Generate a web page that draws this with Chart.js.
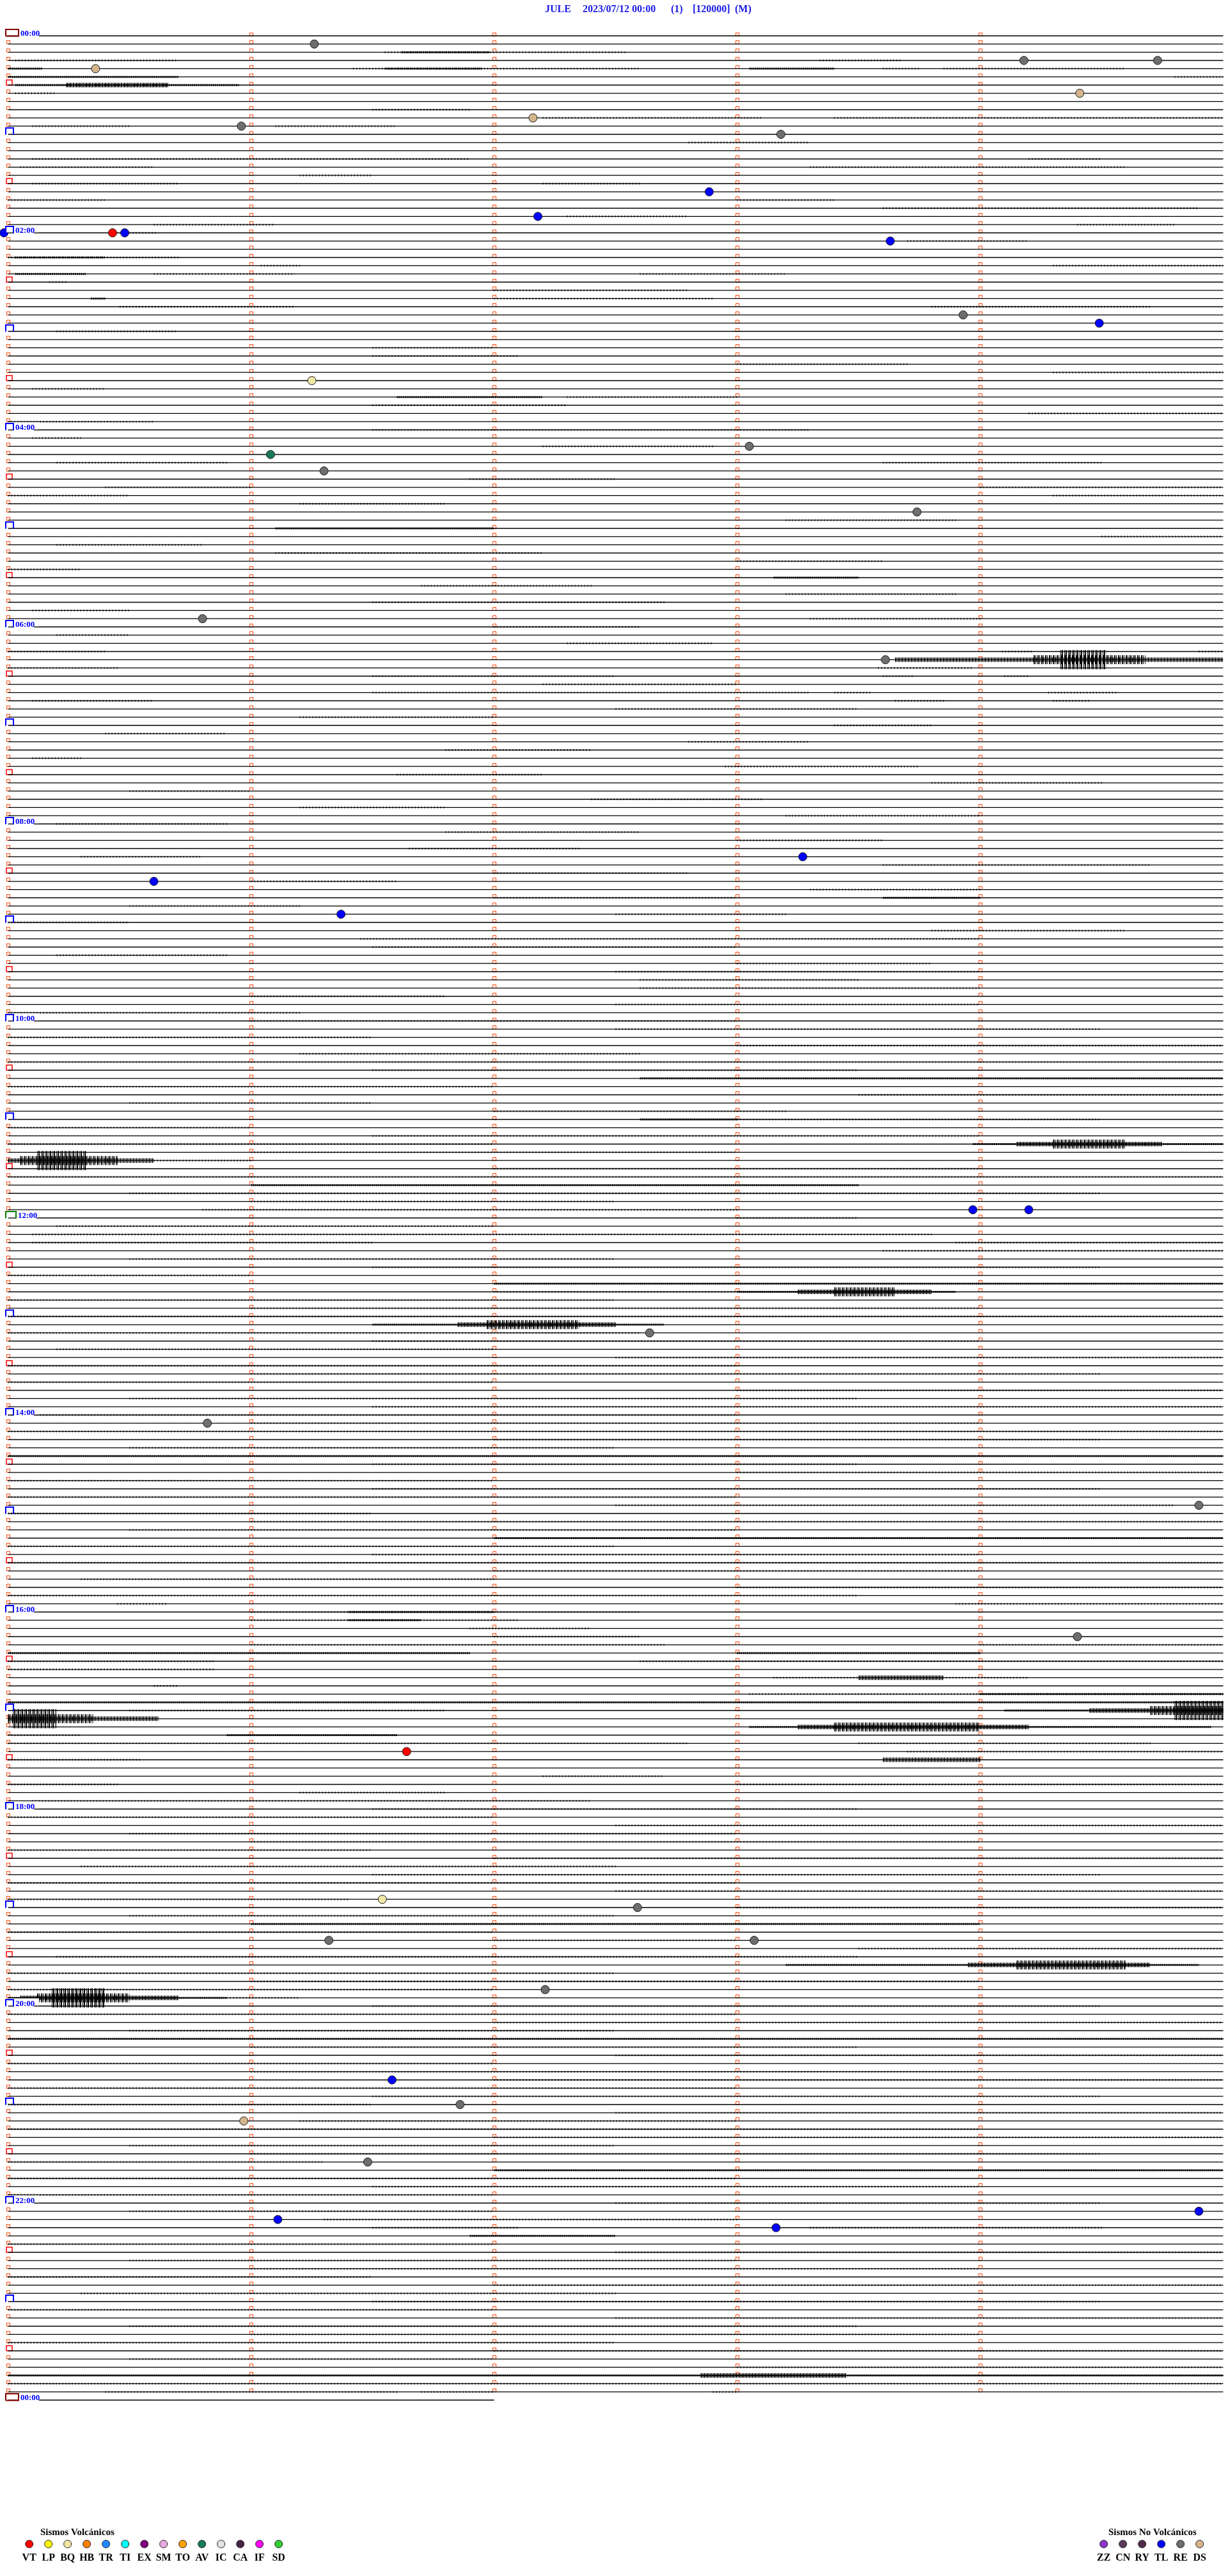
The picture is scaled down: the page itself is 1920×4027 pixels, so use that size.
<!DOCTYPE html>
<html>
<head>
<meta charset="utf-8">
<title>JULE helicorder</title>
<script src="https://cdn.jsdelivr.net/npm/chart.js@4.4.0/dist/chart.umd.min.js"></script>
<style>
  html, body { margin: 0; padding: 0; background: #fff; }
  canvas { display: block; }
</style>
</head>
<body>
<canvas id="heli" width="1920" height="4027"></canvas>
<script>
// one trace row = 5 minutes, 288 rows per day
const rowCount = 288;
const minutesPerRow = 5;
const lastRowEnd = 2.0; // final 00:00 row is only drawn up to minute 2

const titleParts = ['JULE', '2023/07/12 00:00', '(1)', '[120000]', '(M)'];
const hourLabels = ['00:00', '02:00', '04:00', '06:00', '08:00', '10:00', '12:00',
  '14:00', '16:00', '18:00', '20:00', '22:00', '00:00'];

const volcTypes = ['VT', 'LP', 'BQ', 'HB', 'TR', 'TI', 'EX', 'SM', 'TO', 'AV', 'IC', 'CA', 'IF', 'SD'];
const volcColors = ['#ff0000', '#ffff00', '#f2e6a6', '#ff8000', '#1e88ff', '#00ffff', '#800080',
  '#e8a8e0', '#ffa000', '#187a5c', '#e2e2e2', '#4a2442', '#ff00ff', '#33cc33'];
const noVolcTypes = ['ZZ', 'CN', 'RY', 'TL', 'RE', 'DS'];
const noVolcColors = ['#8a34c8', '#5a3c5a', '#522a4c', '#0000ff', '#6e6e6e', '#d4b48c'];

// detected events: row index, minute inside the row, type
const eventRows = [1, 4, 3, 3, 7, 11, 10, 12, 19, 22, 24, 24, 24, 25, 34, 35, 42, 50, 51, 53,
  58, 71, 76, 100, 103, 107, 143, 143, 158, 169, 179, 195, 209, 227, 228, 232, 232, 238, 249,
  252, 254, 259, 266, 267, 265];
const eventMins = [1.26, 0.36, 4.18, 4.73, 4.41, 0.96, 2.16, 3.18, 2.885, 2.18, -0.017, 0.43, 0.48,
  3.63, 3.93, 4.49, 1.25, 3.05, 1.08, 1.30, 3.74, 0.80, 3.61, 3.27, 0.60, 1.37, 3.97, 4.20, 2.64,
  0.82, 4.90, 4.40, 1.64, 1.54, 2.59, 1.32, 3.07, 2.21, 1.58, 1.86, 0.97, 1.48, 1.11, 3.16, 4.90];
const eventTypes = ['RE', 'DS', 'RE', 'RE', 'DS', 'RE', 'DS', 'RE', 'TL', 'TL', 'TL', 'VT', 'TL',
  'TL', 'RE', 'TL', 'BQ', 'RE', 'AV', 'RE', 'RE', 'RE', 'RE', 'TL', 'TL', 'TL', 'TL', 'TL', 'RE',
  'RE', 'RE', 'RE', 'VT', 'BQ', 'RE', 'RE', 'RE', 'RE', 'TL', 'RE', 'DS', 'RE', 'TL', 'TL', 'TL'];

// trace activity: [row, from minute, to minute, level 1..5]
const bursts = [
  [2, 1.55, 2.55, 1], [2, 1.62, 1.98, 2],
  [3, 0.03, 0.7, 1], [3, 3.34, 3.68, 1],
  [4, 0.0, 0.14, 2], [4, 1.42, 2.6, 1], [4, 1.55, 1.95, 2], [4, 3.05, 3.4, 2], [4, 3.6, 3.75, 1], [4, 3.85, 4.6, 1],
  [5, 0.0, 0.7, 2], [5, 4.8, 5, 1],
  [6, 0.03, 0.95, 2], [6, 0.24, 0.66, 3],
  [7, 0.03, 0.19, 1], [9, 1.5, 1.9, 1], [10, 2.2, 3.1, 1], [10, 3.4, 5, 1],
  [11, 0.1, 0.5, 1], [11, 1.1, 1.6, 1], [13, 2.8, 3.3, 1], [15, 0.1, 1.9, 1], [15, 4.2, 4.5, 1],
  [16, 0.05, 0.6, 1], [16, 3.3, 4.6, 1], [17, 1.2, 1.5, 1], [18, 0.1, 0.7, 1], [18, 2.2, 2.6, 1],
  [20, 0.0, 0.4, 1], [20, 3.0, 3.4, 1], [21, 3.6, 4.9, 1], [22, 2.3, 2.8, 1], [23, 0.6, 1.1, 1], [23, 4.4, 4.8, 1],
  [24, 0.5, 0.61, 1], [25, 3.7, 4.2, 1], [27, 0.0, 0.71, 1], [27, 0.03, 0.4, 2], [28, 1.04, 1.2, 1], [28, 4.3, 5, 1],
  [29, 0.03, 0.32, 2], [29, 0.6, 1.18, 1], [29, 2.6, 3.2, 1], [30, 0.17, 0.24, 1], [31, 2.0, 2.8, 1],
  [32, 0.34, 0.4, 2], [32, 2.0, 2.9, 1], [33, 0.46, 1.18, 1], [33, 3.8, 4.7, 1], [36, 0.2, 0.7, 1],
  [38, 1.5, 2.0, 1], [39, 1.5, 2.1, 1], [40, 3.0, 3.7, 1], [41, 4.3, 5, 1], [43, 0.1, 0.4, 1],
  [44, 1.6, 2.2, 2], [44, 2.3, 3.0, 1], [45, 1.5, 2.3, 1], [46, 4.2, 5, 1], [47, 0.0, 0.6, 1],
  [48, 1.5, 3.3, 1], [49, 0.1, 0.3, 1], [50, 2.2, 2.9, 1], [52, 0.2, 0.9, 1], [52, 3.6, 4.5, 1],
  [54, 1.9, 2.5, 1], [55, 0.4, 1.0, 1], [55, 4.0, 5, 1], [56, 0.0, 0.5, 1], [56, 4.3, 5, 1],
  [57, 1.2, 1.8, 1], [59, 3.2, 3.9, 1], [60, 1.1, 2.0, 2], [61, 4.5, 5, 1], [62, 0.2, 0.8, 1],
  [63, 1.1, 2.2, 1], [64, 3.0, 3.6, 1], [65, 0.0, 0.3, 1], [66, 3.15, 3.5, 2], [67, 1.7, 2.4, 1],
  [68, 3.2, 3.9, 1], [69, 1.5, 2.7, 1], [70, 0.1, 0.5, 1], [71, 3.3, 4.0, 1],
  [72, 2.0, 2.6, 1], [73, 0.2, 0.5, 1], [74, 2.3, 2.9, 1], [75, 0.0, 0.4, 1], [75, 4.09, 4.22, 1], [75, 4.9, 5, 1],
  [76, 3.65, 5, 3], [76, 4.22, 4.68, 4], [76, 4.33, 4.52, 5],
  [77, 0.0, 0.45, 1], [77, 3.58, 3.97, 1], [78, 1.5, 2.5, 1], [78, 3.6, 3.73, 1], [78, 4.1, 4.2, 1],
  [79, 2.2, 3.0, 1], [80, 1.5, 3.3, 1], [80, 3.4, 3.55, 1], [80, 4.28, 4.57, 1], [81, 0.1, 0.6, 1],
  [81, 3.65, 3.86, 1], [81, 4.3, 4.45, 1], [82, 2.5, 3.5, 1], [83, 1.2, 2.0, 1], [84, 3.4, 3.8, 1],
  [85, 0.4, 0.9, 1], [86, 2.8, 3.3, 1], [87, 1.8, 2.4, 1], [88, 0.1, 0.3, 1], [89, 2.95, 3.75, 1],
  [90, 1.6, 2.2, 1], [91, 3.8, 4.5, 1], [92, 0.5, 1.0, 1], [93, 2.4, 3.1, 1], [94, 1.2, 1.8, 1], [95, 3.2, 4.0, 1],
  [96, 0.2, 0.9, 1], [97, 1.8, 2.6, 1], [98, 3.0, 3.6, 1], [99, 1.65, 2.35, 1], [100, 0.3, 0.8, 1],
  [101, 3.6, 4.7, 1], [102, 2.0, 2.8, 1], [103, 1.0, 1.6, 1], [104, 3.3, 4.0, 1], [105, 2.0, 3.0, 1],
  [105, 3.6, 4.0, 2], [106, 0.5, 1.2, 1], [107, 2.5, 3.2, 1], [108, 0.0, 0.5, 1], [109, 3.8, 4.6, 1],
  [110, 1.45, 4.0, 1], [111, 1.5, 3.0, 1], [112, 0.2, 0.9, 1], [113, 3.0, 3.8, 1], [114, 2.5, 4.0, 1],
  [115, 2.6, 3.5, 1], [116, 2.6, 4.0, 1], [117, 1.0, 1.8, 1], [118, 2.5, 4.0, 1], [119, 0.0, 1.2, 1],
  [120, 1.0, 3.0, 1], [121, 2.5, 4.5, 1], [122, 0.0, 1.5, 1], [123, 3.0, 5, 1], [124, 1.2, 2.6, 1],
  [125, 0.0, 5, 1], [126, 1.5, 3.5, 1], [127, 2.6, 5, 2], [128, 0.0, 2.0, 1], [129, 3.5, 5, 1],
  [130, 0.5, 1.5, 1], [131, 2.0, 3.2, 1], [132, 2.6, 3.0, 2], [132, 3.0, 4.5, 1], [133, 0.0, 1.0, 1],
  [134, 1.5, 4.0, 1], [135, 0.0, 2.0, 1], [135, 3.97, 5, 2], [135, 4.15, 4.75, 3], [135, 4.3, 4.6, 4],
  [136, 1.0, 3.0, 1], [137, 0.0, 0.6, 3], [137, 0.05, 0.45, 4], [137, 0.12, 0.32, 5], [137, 0.6, 1.0, 1],
  [138, 2.0, 4.0, 1], [139, 0.0, 5, 1], [140, 1.0, 3.5, 2], [141, 0.5, 4.5, 1], [142, 1.0, 2.5, 1], [143, 0.8, 3.0, 1],
  [144, 3.0, 3.5, 1], [145, 0.2, 2.0, 1], [146, 0.1, 3.8, 1], [147, 0.1, 1.5, 1], [147, 3.9, 5, 1],
  [148, 3.6, 5, 1], [149, 0.5, 2.5, 1], [150, 1.5, 4.5, 1], [151, 0.0, 1.0, 1], [152, 2.0, 5, 2],
  [153, 2.0, 3.0, 1], [153, 3.0, 3.9, 2], [153, 3.25, 3.8, 3], [153, 3.4, 3.65, 4], [154, 0.0, 2.5, 1],
  [155, 1.0, 4.0, 1], [156, 0.0, 5, 1], [157, 1.5, 2.7, 2], [157, 1.85, 2.5, 3], [157, 1.97, 2.35, 4],
  [158, 0.0, 2.6, 1], [159, 1.5, 4.0, 1], [160, 0.2, 2.0, 1], [161, 2.5, 5, 1], [162, 0.0, 3.0, 1],
  [163, 1.0, 4.5, 1], [164, 0.0, 2.0, 1], [165, 3.0, 5, 1], [166, 0.5, 3.5, 1], [167, 1.5, 5, 1],
  [168, 0.0, 3.0, 1], [169, 1.0, 4.0, 1], [170, 0.0, 5, 1], [171, 2.0, 4.5, 1], [172, 0.5, 2.5, 1],
  [173, 0.0, 5, 2], [174, 1.5, 3.5, 1], [175, 3.0, 5, 1], [176, 0.0, 2.0, 1], [177, 1.5, 4.5, 1],
  [178, 0.0, 3.0, 1], [179, 2.5, 4.8, 1], [180, 0.0, 1.5, 1], [181, 1.0, 5, 1], [182, 0.5, 3.0, 1],
  [183, 2.0, 5, 2], [184, 0.0, 2.5, 1], [185, 1.5, 4.0, 1], [186, 0.0, 5, 1], [187, 2.0, 4.0, 1],
  [188, 0.3, 2.0, 1], [189, 3.0, 5, 1], [190, 0.0, 3.5, 1], [191, 0.45, 0.65, 1], [191, 3.9, 5, 1],
  [192, 1.0, 2.6, 1], [192, 1.4, 2.0, 2], [193, 1.0, 2.1, 1], [193, 1.4, 1.7, 2], [194, 1.9, 2.4, 1],
  [195, 2.0, 2.6, 1], [196, 1.0, 2.7, 1], [196, 4.0, 5, 1], [197, 0.0, 1.9, 2], [197, 3.0, 4.0, 2],
  [198, 0.0, 0.85, 1], [198, 2.6, 5, 1], [199, 0.0, 0.85, 1], [200, 3.15, 4.2, 1], [200, 3.5, 3.85, 3],
  [201, 0.6, 0.7, 1], [202, 3.05, 5, 1], [202, 4.0, 5, 2], [203, 0.0, 5, 2], [204, 0.5, 1.8, 1],
  [204, 4.1, 5, 2], [204, 4.45, 5, 3], [204, 4.7, 5, 4], [204, 4.8, 5, 5],
  [205, 0.0, 0.62, 3], [205, 0.0, 0.35, 4], [205, 0.02, 0.2, 5],
  [206, 3.05, 4.95, 2], [206, 3.25, 4.2, 3], [206, 3.4, 4.0, 4], [207, 0.0, 0.3, 1], [207, 0.9, 1.6, 2],
  [208, 0.0, 2.8, 1], [208, 3.5, 4.7, 1], [209, 3.7, 5, 1], [210, 0.0, 0.55, 1], [210, 3.6, 4.0, 3],
  [212, 2.2, 2.7, 1], [213, 0.0, 0.45, 1], [213, 3.0, 5, 1], [214, 1.2, 1.8, 1], [215, 0.1, 2.4, 1],
  [216, 1.5, 3.5, 1], [217, 0.0, 2.0, 1], [218, 2.5, 5, 1], [219, 0.5, 3.0, 1], [220, 1.0, 4.0, 1],
  [221, 0.0, 1.5, 1], [222, 2.0, 5, 1], [223, 0.3, 2.5, 1], [224, 1.5, 4.5, 1], [225, 0.0, 3.0, 1],
  [226, 2.5, 5, 1], [227, 0.0, 1.4, 1], [228, 3.0, 5, 1], [229, 0.5, 2.5, 1], [230, 1.0, 4.0, 2],
  [231, 0.0, 2.0, 1], [232, 2.0, 3.0, 1], [233, 3.5, 5, 1], [234, 0.2, 3.5, 1], [235, 3.2, 4.9, 2],
  [235, 3.95, 4.7, 3], [235, 4.15, 4.6, 4], [236, 0.0, 2.5, 1], [237, 1.0, 4.0, 1], [238, 0.0, 2.0, 1],
  [239, 0.0, 0.9, 2], [239, 0.05, 0.7, 3], [239, 0.12, 0.5, 4], [239, 0.18, 0.4, 5], [239, 0.9, 1.2, 1],
  [240, 1.5, 4.5, 1], [241, 0.0, 3.0, 1], [242, 2.0, 5, 1], [243, 0.5, 2.5, 1], [244, 0.0, 5, 2],
  [245, 1.0, 3.5, 1], [246, 2.5, 5, 1], [247, 0.0, 2.0, 1], [248, 1.0, 4.0, 1], [249, 2.0, 5, 1],
  [250, 0.0, 3.0, 1], [251, 1.5, 4.5, 1], [252, 0.0, 1.5, 1], [253, 2.5, 5, 1], [254, 1.2, 3.0, 1],
  [255, 0.0, 4.0, 1], [256, 2.0, 5, 1], [257, 0.5, 2.5, 1], [258, 1.0, 4.5, 1], [259, 0.0, 1.3, 1],
  [260, 2.0, 5, 2], [261, 0.0, 3.0, 1], [262, 1.5, 4.0, 1], [263, 0.0, 2.0, 1],
  [264, 2.5, 4.5, 1], [265, 0.5, 2.0, 1], [266, 1.3, 3.0, 1], [267, 1.5, 2.1, 1], [267, 3.3, 4.5, 1],
  [268, 1.9, 2.5, 2], [269, 0.0, 2.0, 1], [270, 2.5, 5, 1], [271, 0.5, 3.0, 1], [272, 1.0, 4.0, 1],
  [273, 0.0, 1.5, 1], [274, 2.0, 5, 1], [275, 0.3, 2.5, 1], [276, 1.5, 4.5, 1], [277, 0.0, 2.0, 1],
  [278, 2.5, 5, 1], [279, 0.5, 3.5, 1], [280, 1.0, 4.0, 1], [281, 0.0, 2.5, 1], [282, 2.0, 5, 1],
  [283, 0.5, 2.0, 1], [284, 3.0, 5, 1], [285, 0.0, 5, 2], [285, 2.85, 3.45, 3], [286, 0.0, 5, 1],
  [287, 0.4, 1.6, 1], [287, 1.7, 2.0, 1], [287, 2.9, 3.0, 1]
];

// look and feel of each activity level
const levelStyle = {
  1: { width: 3, dash: [1, 4] },
  2: { width: 3, dash: [2, 1] },
  3: { width: 7, dash: [2, 1, 1, 1] },
  4: { width: 14, dash: [2, 1, 1, 2] },
  5: { width: 30, dash: [1, 1, 2, 2] }
};

const typeColor = {};
volcTypes.forEach((t, i) => { typeColor[t] = volcColors[i]; });
noVolcTypes.forEach((t, i) => { typeColor[t] = noVolcColors[i]; });

// baselines, broken between rows with null points
const baseline = [];
for (let r = 0; r <= rowCount; r++) {
  const end = r === rowCount ? lastRowEnd : minutesPerRow;
  baseline.push({ x: 0, y: r }, { x: end, y: r }, { x: end, y: null });
}

const levelData = { 1: [], 2: [], 3: [], 4: [], 5: [] };
bursts.forEach(([row, from, to, lvl]) => {
  levelData[lvl].push({ x: from, y: row }, { x: to, y: row }, { x: to, y: null });
});

const burstSets = Object.keys(levelData).map(lvl => ({
  data: levelData[lvl],
  showLine: true,
  pointRadius: 0,
  borderColor: '#000',
  borderWidth: levelStyle[lvl].width,
  borderDash: levelStyle[lvl].dash,
  borderCapStyle: 'butt',
  spanGaps: false,
  clip: false,
  order: 1
}));

const eventSet = {
  data: eventRows.map((r, i) => ({ x: eventMins[i], y: r })),
  pointRadius: 6.5,
  pointBorderWidth: 1,
  pointBorderColor: '#1a1a1a',
  pointBackgroundColor: eventTypes.map(t => typeColor[t]),
  clip: false,
  order: 0
};

const baselineSet = {
  data: baseline,
  showLine: true,
  pointRadius: 0,
  borderColor: '#000',
  borderWidth: 1.3,
  spanGaps: false,
  clip: false,
  order: 2
};

// minute ticks, hour marks, labels, title and legend
const decorations = {
  id: 'decorations',
  beforeDatasetsDraw(chart) {
    const { ctx, scales: { x, y } } = chart;
    ctx.save();
    ctx.lineWidth = 1;
    for (let r = 0; r < rowCount; r++) {
      const py = y.getPixelForValue(r);
      for (let m = 0; m < minutesPerRow; m++) {
        if (m === 0 && r % 6 === 0) continue;
        const px = x.getPixelForValue(m);
        ctx.strokeStyle = '#ff4a10';
        ctx.strokeRect(Math.round(px - 2.5) + 0.5, Math.round(py - 5.5) + 0.5, 5, 5);
      }
      if (r % 12 === 6) {
        const px = x.getPixelForValue(0);
        ctx.strokeStyle = '#ff0000';
        ctx.lineWidth = 1.5;
        ctx.strokeRect(Math.round(px - 2.5), Math.round(py - 8.5), 9, 8);
        ctx.lineWidth = 1;
      }
    }
    ctx.restore();
  },
  afterDatasetsDraw(chart) {
    const { ctx, scales: { x, y } } = chart;
    const x0 = x.getPixelForValue(0);
    ctx.save();

    // hour marks
    for (let r = 0; r <= rowCount; r += 12) {
      const py = y.getPixelForValue(r);
      const hour = r / 12;
      let color = '#0000ff', w = 12;
      if (hour % 24 === 0) { color = '#800000'; w = 20; }
      else if (hour === 12) { color = '#008000'; w = 16; }
      const left = Math.round(x0 - 3.5);
      if (hour % 2 === 0) {
        ctx.fillStyle = '#fff';
        ctx.fillRect(left, py - 12, 52, 11.2);
        ctx.fillRect(left + w + 1, py - 1, 31, 3);
      }
      ctx.strokeStyle = color;
      ctx.lineWidth = 2;
      ctx.beginPath();
      ctx.moveTo(left, py + 0.5);
      ctx.lineTo(left, py - 10);
      ctx.lineTo(left + w, py - 10);
      ctx.lineTo(left + w, py + 0.5);
      if (hour % 24 === 0) ctx.lineTo(left, py + 0.5);
      ctx.stroke();
      if (hour % 2 === 0) {
        ctx.fillStyle = '#0000ff';
        ctx.font = 'bold 13px "Liberation Serif"';
        ctx.textBaseline = 'alphabetic';
        ctx.textAlign = 'left';
        ctx.fillText(hourLabels[hour / 2], left + w + 3, py);
      }
    }

    // title
    ctx.fillStyle = '#1a1ae6';
    ctx.font = 'bold 16px "Liberation Serif"';
    ctx.textAlign = 'left';
    ctx.textBaseline = 'alphabetic';
    const titleX = [852, 911, 1049, 1083, 1149];
    titleParts.forEach((t, i) => ctx.fillText(t, titleX[i], 19));

    // legends
    const drawLegend = (title, titleLeft, types, colors, firstX) => {
      ctx.fillStyle = '#000';
      ctx.font = 'bold 15px "Liberation Serif"';
      ctx.textAlign = 'left';
      ctx.fillText(title, titleLeft, 3963);
      types.forEach((t, i) => {
        const cx = firstX + i * 30;
        ctx.beginPath();
        ctx.arc(cx, 3977, 6, 0, Math.PI * 2);
        ctx.fillStyle = colors[i];
        ctx.fill();
        ctx.strokeStyle = '#222';
        ctx.lineWidth = 1;
        ctx.stroke();
        ctx.fillStyle = '#000';
        ctx.font = 'bold 16px "Liberation Serif"';
        ctx.textAlign = 'center';
        ctx.fillText(t, cx, 4003);
      });
      ctx.textAlign = 'left';
    };
    drawLegend('Sismos Volcánicos', 63, volcTypes, volcColors, 45.7);
    drawLegend('Sismos No Volcánicos', 1733, noVolcTypes, noVolcColors, 1725.7);

    ctx.restore();
  }
};

const ctx = document.getElementById('heli').getContext('2d');
new Chart(ctx, {
  type: 'scatter',
  data: { datasets: [eventSet, ...burstSets, baselineSet] },
  options: {
    responsive: false,
    animation: false,
    devicePixelRatio: 1,
    events: [],
    layout: { padding: { left: 12.6, right: 7.4, top: 56, bottom: 275 } },
    scales: {
      x: { type: 'linear', min: 0, max: minutesPerRow, display: false },
      y: { type: 'linear', min: 0, max: rowCount, reverse: true, display: false }
    },
    plugins: {
      legend: { display: false },
      tooltip: { enabled: false }
    }
  },
  plugins: [decorations]
});
</script>
</body>
</html>
